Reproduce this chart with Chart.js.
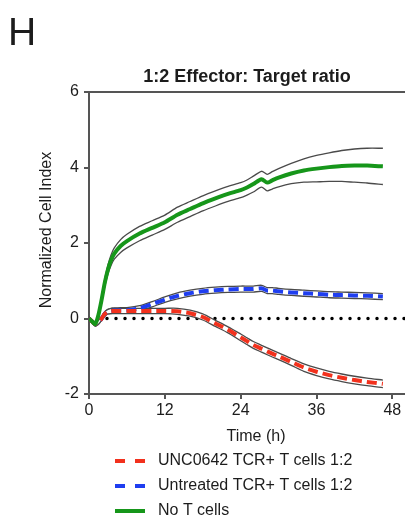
<!DOCTYPE html>
<html>
<head>
<meta charset="utf-8">
<script src="https://cdn.jsdelivr.net/npm/chart.js@4.4.1/dist/chart.umd.min.js"></script>
<style>
  body { margin: 0; background: #fff; }
  canvas { display: block; }
</style>
</head>
<body>
<canvas id="cellIndexChart" width="405" height="520"></canvas>
<script>
// Time points (h)
const times = [0, 0.5, 1, 1.5, 2, 2.5, 3, 3.5, 4, 5, 6, 8, 10, 12, 14, 16, 18, 20, 22, 24, 25, 26, 27.3, 28.2, 29, 30, 32, 34, 36, 38, 40, 42, 44, 46.5];

// UNC0642 TCR+ T cells 1:2
const unc0642Mean = [0, -0.08, -0.15, -0.1, 0.0, 0.12, 0.18, 0.2, 0.2, 0.2, 0.2, 0.2, 0.2, 0.2, 0.19, 0.14, 0.04, -0.13, -0.3, -0.5, -0.6, -0.7, -0.8, -0.87, -0.93, -1.0, -1.15, -1.3, -1.41, -1.5, -1.57, -1.63, -1.68, -1.73];
const unc0642Sd = [0.03, 0.04, 0.05, 0.05, 0.05, 0.06, 0.06, 0.07, 0.07, 0.07, 0.07, 0.07, 0.07, 0.07, 0.08, 0.08, 0.08, 0.08, 0.08, 0.09, 0.09, 0.09, 0.09, 0.09, 0.09, 0.09, 0.09, 0.1, 0.1, 0.1, 0.1, 0.1, 0.1, 0.1];

// Untreated TCR+ T cells 1:2
const untreatedMean = [0, -0.08, -0.15, -0.1, 0.0, 0.12, 0.18, 0.2, 0.21, 0.22, 0.22, 0.27, 0.38, 0.5, 0.6, 0.67, 0.72, 0.75, 0.77, 0.78, 0.78, 0.78, 0.8, 0.74, 0.74, 0.72, 0.69, 0.67, 0.65, 0.63, 0.62, 0.61, 0.6, 0.58];
const untreatedSd = [0.03, 0.04, 0.05, 0.05, 0.05, 0.06, 0.06, 0.07, 0.07, 0.07, 0.07, 0.07, 0.07, 0.07, 0.08, 0.08, 0.08, 0.08, 0.08, 0.08, 0.08, 0.08, 0.08, 0.08, 0.08, 0.08, 0.08, 0.08, 0.08, 0.08, 0.08, 0.08, 0.08, 0.08];

// No T cells
const noTCellsMean = [0, -0.08, -0.15, 0.1, 0.5, 0.95, 1.3, 1.55, 1.72, 1.92, 2.05, 2.25, 2.4, 2.55, 2.75, 2.9, 3.05, 3.18, 3.3, 3.4, 3.47, 3.56, 3.69, 3.6, 3.66, 3.73, 3.84, 3.92, 3.97, 4.01, 4.04, 4.05, 4.05, 4.03];
const noTCellsSd = [0.02, 0.03, 0.04, 0.06, 0.08, 0.1, 0.12, 0.14, 0.15, 0.17, 0.18, 0.19, 0.19, 0.19, 0.2, 0.2, 0.2, 0.2, 0.2, 0.2, 0.2, 0.21, 0.21, 0.22, 0.23, 0.24, 0.27, 0.31, 0.35, 0.38, 0.41, 0.44, 0.46, 0.48];

// Dotted zero line
const baselineTimes = [0, 50];
const baselineValues = [0, 0];

const xTicks = [0, 12, 24, 36, 48];
const yTicks = [-2, 0, 2, 4, 6];

const seriesLabels = ['UNC0642 TCR+ T cells 1:2', 'Untreated TCR+ T cells 1:2', 'No T cells'];
const seriesColors = ['#f2311d', '#1f3ef0', '#16961a'];

const axisColor = '#555555';
const textColor = '#1c1c1c';
const fontFamily = "'Liberation Sans', Arial, sans-serif";

Chart.defaults.font.family = fontFamily;
Chart.defaults.color = textColor;

function toPoints(xs, ys) {
    return xs.map((x, i) => ({ x: x, y: ys[i] }));
}

function offsetBy(mean, sd, sign) {
    return mean.map((m, i) => m + sign * sd[i]);
}

// Upper and lower SD lines, white between them
function envelope(mean, sd) {
    return [
        {
            data: toPoints(times, offsetBy(mean, sd, 1)),
            borderColor: '#4a4a4a',
            borderWidth: 1.3,
            pointRadius: 0,
            tension: 0.25,
            fill: false,
            order: 5
        },
        {
            data: toPoints(times, offsetBy(mean, sd, -1)),
            borderColor: '#4a4a4a',
            borderWidth: 1.3,
            pointRadius: 0,
            tension: 0.25,
            fill: '-1',
            backgroundColor: '#ffffff',
            order: 5
        }
    ];
}

function meanLine(label, mean, color, dash, order) {
    return {
        label: label,
        data: toPoints(times, mean),
        borderColor: color,
        borderWidth: 4,
        borderDash: dash,
        pointRadius: 0,
        tension: 0.25,
        fill: false,
        order: order,
        inLegend: true,
        legendDash: dash.length ? [10, 10] : []
    };
}

// Title, panel letter, axis titles, top frame and legend
const decorPlugin = {
    id: 'decor',
    afterDraw(chart) {
        const ctx = chart.ctx;
        const area = chart.chartArea;
        ctx.save();

        // top frame line
        ctx.strokeStyle = axisColor;
        ctx.lineWidth = 2;
        ctx.beginPath();
        ctx.moveTo(area.left, area.top);
        ctx.lineTo(area.right, area.top);
        ctx.stroke();

        ctx.fillStyle = textColor;

        ctx.font = '39px ' + fontFamily;
        ctx.textAlign = 'left';
        ctx.textBaseline = 'alphabetic';
        ctx.fillText('H', 8, 45);

        ctx.font = 'bold 18px ' + fontFamily;
        ctx.textAlign = 'center';
        ctx.fillText('1:2 Effector: Target ratio', (area.left + area.right) / 2, 82);

        ctx.font = '16px ' + fontFamily;
        ctx.textBaseline = 'middle';
        ctx.fillText('Time (h)', 256, 437);

        ctx.save();
        ctx.translate(47, 230);
        ctx.rotate(-Math.PI / 2);
        ctx.fillText('Normalized Cell Index', 0, 0);
        ctx.restore();

        // legend
        const items = chart.data.datasets.filter(d => d.inLegend);
        ctx.textAlign = 'left';
        items.forEach((d, i) => {
            const y = 461 + i * 25;
            ctx.strokeStyle = d.borderColor;
            ctx.lineWidth = 4;
            ctx.setLineDash(d.legendDash);
            ctx.beginPath();
            ctx.moveTo(115, y);
            ctx.lineTo(145, y);
            ctx.stroke();
            ctx.setLineDash([]);
            ctx.fillStyle = textColor;
            ctx.fillText(d.label, 158, y);
        });

        ctx.restore();
    }
};

const datasets = [
    meanLine(seriesLabels[0], unc0642Mean, seriesColors[0], [10, 5], 1),
    meanLine(seriesLabels[1], untreatedMean, seriesColors[1], [10, 5], 2),
    meanLine(seriesLabels[2], noTCellsMean, seriesColors[2], [], 0),
    ...envelope(unc0642Mean, unc0642Sd),
    ...envelope(untreatedMean, untreatedSd),
    ...envelope(noTCellsMean, noTCellsSd),
    {
        data: toPoints(baselineTimes, baselineValues),
        borderColor: '#000000',
        borderWidth: 3.5,
        borderDash: [0, 9],
        borderCapStyle: 'round',
        pointRadius: 0,
        fill: false,
        order: 10
    }
];

new Chart(document.getElementById('cellIndexChart'), {
    type: 'line',
    data: { datasets: datasets },
    options: {
        responsive: false,
        animation: false,
        layout: {
            padding: { top: 92, right: 0, bottom: 96, left: 0 }
        },
        plugins: {
            legend: { display: false },
            tooltip: { enabled: false },
            title: { display: false }
        },
        scales: {
            x: {
                type: 'linear',
                min: 0,
                max: 50,
                afterBuildTicks: scale => {
                    scale.ticks = xTicks.map(v => ({ value: v }));
                },
                afterFit: scale => {
                    scale.height = 30;
                },
                ticks: {
                    color: textColor,
                    font: { size: 16 },
                    padding: 2,
                    maxRotation: 0
                },
                grid: {
                    drawOnChartArea: false,
                    color: axisColor,
                    lineWidth: 2,
                    tickLength: 5
                },
                border: { color: axisColor, width: 2 }
            },
            y: {
                min: -2,
                max: 6,
                afterBuildTicks: scale => {
                    scale.ticks = yTicks.map(v => ({ value: v }));
                },
                afterFit: scale => {
                    scale.width = 89;
                },
                ticks: {
                    color: textColor,
                    font: { size: 16 },
                    padding: 5
                },
                grid: {
                    drawOnChartArea: false,
                    color: axisColor,
                    lineWidth: 2,
                    tickLength: 5
                },
                border: { color: axisColor, width: 2 }
            }
        }
    },
    plugins: [decorPlugin]
});
</script>
</body>
</html>
